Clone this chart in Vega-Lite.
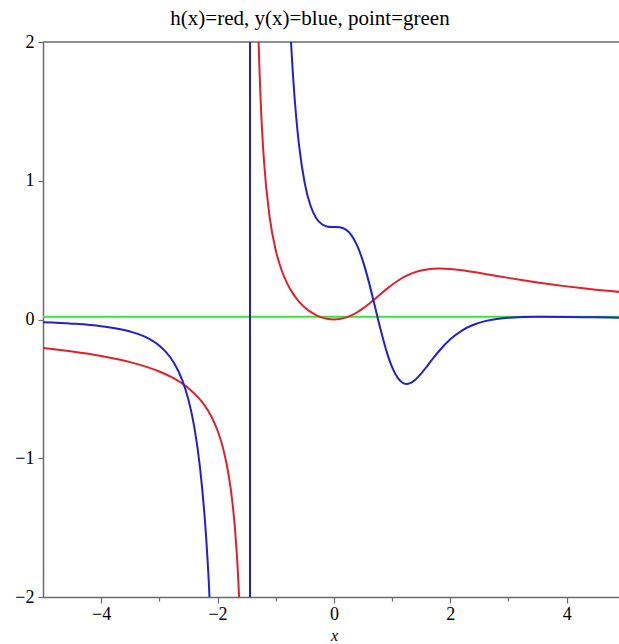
{
  "$schema": "https://vega.github.io/schema/vega-lite/v6.json",
  "width": 576,
  "height": 555,
  "autosize": {"type": "none"},
  "padding": {"left": 43, "top": 42, "right": 0, "bottom": 47},
  "background": "white",
  "title": {
    "text": "h(x)=red, y(x)=blue, point=green",
    "font": "Liberation Serif, Times New Roman, serif",
    "fontSize": 21,
    "fontWeight": "normal",
    "color": "black",
    "anchor": "middle",
    "dx": -21,
    "offset": 4
  },
  "config": {
    "view": {"stroke": null},
    "axis": {
      "domainColor": "#6a6a6a",
      "domainWidth": 1.5,
      "tickColor": "#6a6a6a",
      "tickWidth": 1.2,
      "grid": false,
      "labelFont": "Liberation Serif, Times New Roman, serif",
      "labelFontSize": 18,
      "labelColor": "black",
      "labelOverlap": false,
      "labelFlush": false,
      "titleFont": "Liberation Serif, Times New Roman, serif",
      "titleColor": "black"
    }
  },
  "datasets": {
    "green": [
      {"x": -5, "y": 0.02},
      {"x": 5, "y": 0.02}
    ],
    "red": [
      {"x": -5, "y": -0.2049}, {"x": -4.5, "y": -0.2298}, {"x": -4, "y": -0.2623}, {"x": -3.5, "y": -0.3072},
      {"x": -3, "y": -0.375}, {"x": -2.75, "y": -0.4249}, {"x": -2.5, "y": -0.495}, {"x": -2.25, "y": -0.6033},
      {"x": -2.1, "y": -0.7044}, {"x": -2, "y": -0.8}, {"x": -1.9, "y": -0.9355}, {"x": -1.8, "y": -1.1441},
      {"x": -1.75, "y": -1.2982}, {"x": -1.7, "y": -1.5107}, {"x": -1.65, "y": -1.8247}, {"x": -1.6, "y": -2.336},
      {"x": -1.55, "y": -3.319}, {"x": -1.5, "y": -6.0}, {"x": -1.443, "y": -100}, {"x": -1.441, "y": 100},
      {"x": -1.4, "y": 7.656}, {"x": -1.35, "y": 3.375}, {"x": -1.3, "y": 2.105}, {"x": -1.25, "y": 1.4925},
      {"x": -1.2, "y": 1.1321}, {"x": -1.1, "y": 0.725}, {"x": -1, "y": 0.5}, {"x": -0.9, "y": 0.3567},
      {"x": -0.8, "y": 0.2572}, {"x": -0.7, "y": 0.1844}, {"x": -0.6, "y": 0.1293}, {"x": -0.5, "y": 0.087},
      {"x": -0.4, "y": 0.0545}, {"x": -0.3, "y": 0.0303}, {"x": -0.2, "y": 0.0134}, {"x": -0.1, "y": 0.0033},
      {"x": 0, "y": 0}, {"x": 0.1, "y": 0.0033}, {"x": 0.2, "y": 0.0133}, {"x": 0.3, "y": 0.0297},
      {"x": 0.4, "y": 0.0522}, {"x": 0.5, "y": 0.08}, {"x": 0.6, "y": 0.1119}, {"x": 0.7, "y": 0.1466},
      {"x": 0.8, "y": 0.1822}, {"x": 0.9, "y": 0.2172}, {"x": 1, "y": 0.25}, {"x": 1.1, "y": 0.2794},
      {"x": 1.2, "y": 0.3046}, {"x": 1.3, "y": 0.3252}, {"x": 1.4, "y": 0.3412}, {"x": 1.5, "y": 0.3529},
      {"x": 1.6, "y": 0.3608}, {"x": 1.7, "y": 0.3652}, {"x": 1.817, "y": 0.3668}, {"x": 2, "y": 0.3636},
      {"x": 2.2, "y": 0.3546}, {"x": 2.4, "y": 0.3424}, {"x": 2.6, "y": 0.3285}, {"x": 2.8, "y": 0.3142},
      {"x": 3, "y": 0.3}, {"x": 3.25, "y": 0.283}, {"x": 3.5, "y": 0.267}, {"x": 3.75, "y": 0.2523},
      {"x": 4, "y": 0.2388}, {"x": 4.25, "y": 0.2264}, {"x": 4.5, "y": 0.2151}, {"x": 4.75, "y": 0.2048},
      {"x": 5, "y": 0.1953}
    ],
    "blue": [
      {"x": -5, "y": -0.0201}, {"x": -4.5, "y": -0.0299}, {"x": -4, "y": -0.048}, {"x": -3.5, "y": -0.0867},
      {"x": -3.25, "y": -0.1241}, {"x": -3, "y": -0.1888}, {"x": -2.9, "y": -0.2281}, {"x": -2.75, "y": -0.3116},
      {"x": -2.6, "y": -0.4437}, {"x": -2.5, "y": -0.5777}, {"x": -2.4, "y": -0.7734}, {"x": -2.3, "y": -1.0711},
      {"x": -2.2, "y": -1.547}, {"x": -2.15, "y": -1.895}, {"x": -2.1, "y": -2.357}, {"x": -2, "y": -3.856},
      {"x": -1.9, "y": -6.96}, {"x": -1.8, "y": -14.57}, {"x": -1.443, "y": -100}, {"x": -1.441, "y": 100},
      {"x": -1, "y": 7.75}, {"x": -0.9, "y": 4.242}, {"x": -0.8, "y": 2.599}, {"x": -0.75, "y": 2.105},
      {"x": -0.7, "y": 1.74}, {"x": -0.65, "y": 1.4664}, {"x": -0.6, "y": 1.259}, {"x": -0.5, "y": 0.9797},
      {"x": -0.4, "y": 0.8177}, {"x": -0.3, "y": 0.7282}, {"x": -0.2, "y": 0.6846}, {"x": -0.1, "y": 0.6689},
      {"x": 0, "y": 0.6667}, {"x": 0.1, "y": 0.6644}, {"x": 0.2, "y": 0.649}, {"x": 0.3, "y": 0.6081},
      {"x": 0.4, "y": 0.5326}, {"x": 0.5, "y": 0.4188}, {"x": 0.6, "y": 0.2712}, {"x": 0.7, "y": 0.1025},
      {"x": 0.8, "y": -0.0688}, {"x": 0.9, "y": -0.2228}, {"x": 1, "y": -0.3438}, {"x": 1.1, "y": -0.4229},
      {"x": 1.2, "y": -0.4599}, {"x": 1.25, "y": -0.4641}, {"x": 1.3, "y": -0.4604}, {"x": 1.4, "y": -0.4337},
      {"x": 1.5, "y": -0.3897}, {"x": 1.6, "y": -0.3372}, {"x": 1.7, "y": -0.2827}, {"x": 1.8, "y": -0.2307},
      {"x": 2, "y": -0.1428}, {"x": 2.2, "y": -0.0796}, {"x": 2.4, "y": -0.0379}, {"x": 2.6, "y": -0.0118},
      {"x": 2.8, "y": 0.0039}, {"x": 3, "y": 0.0127}, {"x": 3.5, "y": 0.0196}, {"x": 4, "y": 0.0184},
      {"x": 4.5, "y": 0.0154}, {"x": 5, "y": 0.0124}
    ]
  },
  "layer": [
    {
      "data": {"values": [{}]},
      "mark": {"type": "rule", "color": "#6a6a6a", "strokeWidth": 1.5},
      "encoding": {
        "y": {"datum": 2, "type": "quantitative"}
      }
    },
    {
      "data": {"name": "green"},
      "mark": {"type": "line", "color": "#3ee23e", "strokeWidth": 2, "clip": true},
      "encoding": {
        "x": {
          "field": "x",
          "type": "quantitative",
          "scale": {"domain": [-5, 4.9], "nice": false, "zero": false},
          "axis": {
            "values": [-4, -3, -2, -1, 0, 1, 2, 3, 4],
            "format": "d",
            "labelExpr": "datum.value % 2 === 0 ? datum.label : ''",
            "tickSize": {"condition": {"test": "datum.value % 2 !== 0", "value": 4}, "value": 6},
            "labelPadding": 2,
            "title": "x",
            "titleFontStyle": "italic",
            "titleFontWeight": "normal",
            "titleFontSize": 16,
            "titleBaseline": "bottom",
            "titleX": 291,
            "titleY": 46
          }
        },
        "y": {
          "field": "y",
          "type": "quantitative",
          "scale": {"domain": [-2, 2], "nice": false, "zero": false},
          "axis": {
            "values": [-2, -1.5, -1, -0.5, 0, 0.5, 1, 1.5, 2],
            "format": "d",
            "labelExpr": "datum.value % 1 === 0 ? datum.label : ''",
            "tickSize": {"condition": {"test": "datum.value % 1 !== 0", "value": 3}, "value": 5},
            "labelPadding": 4,
            "title": null
          }
        }
      }
    },
    {
      "data": {"name": "red"},
      "mark": {"type": "line", "color": "#e2202c", "strokeWidth": 2, "clip": true, "interpolate": "monotone"},
      "encoding": {
        "x": {"field": "x", "type": "quantitative"},
        "y": {"field": "y", "type": "quantitative"}
      }
    },
    {
      "data": {"name": "blue"},
      "mark": {"type": "line", "color": "#2020d2", "strokeWidth": 2, "clip": true, "interpolate": "monotone"},
      "encoding": {
        "x": {"field": "x", "type": "quantitative"},
        "y": {"field": "y", "type": "quantitative"}
      }
    }
  ]
}
